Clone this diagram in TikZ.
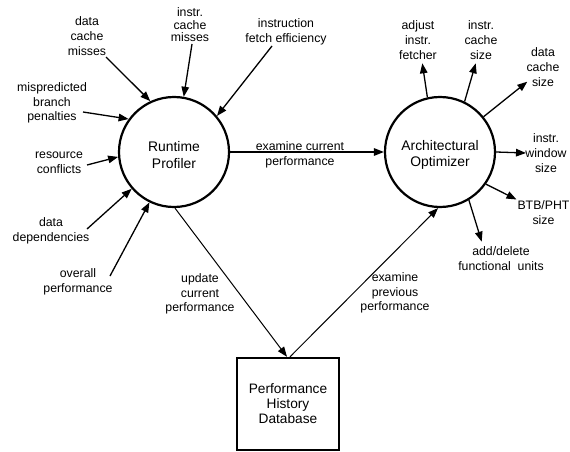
\documentclass[tikz,border=0pt]{standalone}
\usepackage{fontspec}
\setmainfont{Liberation Sans}
\usetikzlibrary{arrows.meta,calc}
\begin{document}
\begin{tikzpicture}[x=1pt,y=-1pt,
  small/.style={font=\fontsize{12.3}{14.8}\selectfont,align=center,inner sep=0pt},
  big/.style={font=\fontsize{13.9}{16.5}\selectfont,align=center,inner sep=0pt},
  proc/.style={draw,circle,line width=2.2pt,minimum size=110pt,inner sep=0pt},
  store/.style={draw,rectangle,line width=2.4pt,minimum width=102pt,minimum height=92pt,inner sep=0pt,font=\fontsize{13.7}{15}\selectfont,align=center},
  arr/.style={line width=1.3pt,-{Triangle[length=10pt,width=7.5pt]}},
  thin/.style={line width=1pt,-{Triangle[length=10pt,width=7.5pt]}}]
\useasboundingbox (0,0) rectangle (570,452);
\clip (0,0) rectangle (570,452);

% main nodes
\node[proc] (rp) at (174,152) {};
\node[big] (rpt) at (174,155) {Runtime\\Profiler};
\node[proc] (ao) at (440,152) {};
\node[big] (aot) at (440,155) {Architectural\\Optimizer};
\node[store] (db) at (288,404) {Performance\\History\\Database};

% left input labels
\node[small] (l1) at (87,36) {data\\cache\\misses};
\node[small,font=\fontsize{12.3}{12.5}\selectfont] (l2) at (190,25) {instr.\\cache\\misses};
\node[small] (l3) at (286,32) {instruction\\fetch efficiency};
\node[small] (l4) at (52,103) {mispredicted\\branch\\penalties};
\node[small] (l5) at (59,163) {resource\\conflicts};
\node[small] (l6) at (51,231) {data\\dependencies};
\node[small] (l7) at (78,282) {overall\\performance};

% right output labels
\node[small] (r1) at (418,40) {adjust\\instr.\\fetcher};
\node[small] (r2) at (481,40) {instr.\\cache\\size};
\node[small] (r3) at (543,67) {data\\cache\\size};
\node[small] (r4) at (546,153) {instr.\\window\\size};
\node[small] (r5) at (543.5,213) {BTB/PHT\\size};
\node[small] (r6) at (501,259) {add/delete\\functional\ \ units};

% middle labels
\node[small] (m1) at (300,154.5) {examine current\\performance};
\node[small] (m2) at (200,294) {update\\current\\performance};
\node[small] (m3) at (395,293) {examine\\previous\\performance};

% tail / tip coordinates
\coordinate (t1) at (106,57);
\coordinate (t2) at (192,44);
\coordinate (t3) at (272,46);
\coordinate (t4) at (83,112);
\coordinate (t5) at (87,165);
\coordinate (t6) at (87,229);
\coordinate (t7) at (110,276);
\coordinate (o1) at (422.3,63.3);
\coordinate (o2) at (475.7,63.3);
\coordinate (o3) at (527.3,81.7);
\coordinate (o4) at (526,153);
\coordinate (o5) at (516.5,199.5);
\coordinate (o6) at (481.7,241.7);

% inputs to profiler
\draw[arr] (t1) -- (rp.115.1);
\draw[arr] (t2) -- (rp.80.9);
\draw[arr] (t3) -- (rp.40.9);
\draw[arr] (t4) -- (rp.144.3);
\draw[arr] (t5) -- (rp.185.9);
\draw[arr] (t6) -- (rp.221.9);
\draw[arr] (t7) -- (rp.244);

% outputs of optimizer
\draw[arr] (ao.103.9) -- (o1);
\draw[arr] (ao.64.8) -- (o2);
\draw[arr] (ao.39.2) -- (o3);
\draw[arr] (ao.0) -- (o4);
\draw[arr] (ao.-35.7) -- (o5);
\draw[arr] (ao.-59.5) -- (o6);

% main flows
\draw[arr] (rp.east) -- (ao.west);
\draw[thin] (rp.-89) -- ($(db.north)+(-1,0)$);
\draw[thin] ($(db.north)+(2,0)$) -- (ao.-92);
\end{tikzpicture}
\end{document}
